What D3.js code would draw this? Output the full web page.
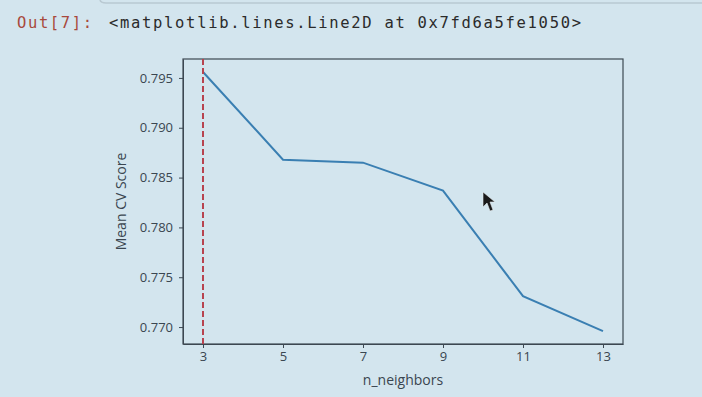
<!DOCTYPE html>
<meta charset="utf-8">
<style>
body { margin: 0; background: #d3e5ee; }
svg { display: block; background: #d3e5ee; }
.axis path, .axis line { stroke: #3d4852; }
.axis text { font: 13px "Open Sans", sans-serif; fill: #3a4650; }
</style>
<svg width="702" height="397"></svg>
<script src="https://d3js.org/d3.v7.min.js"></script>
<script>

// n_neighbors vs mean cross-validation score
var neighbors = [3, 5, 7, 9, 11, 13];
var scores = [0.7956, 0.7868, 0.7865, 0.7837, 0.7731, 0.7696];
var yTicks = [0.770, 0.775, 0.780, 0.785, 0.790, 0.795];
var bestK = 3;

var svg = d3.select("svg"),
    margin = {top: 59, right: 79, bottom: 53, left: 183},
    width = svg.attr("width") - margin.left - margin.right,
    height = svg.attr("height") - margin.top - margin.bottom;

// notebook cell frame + output prompt
svg.append("path")
    .attr("d", "M100,0 V-1 Q100,3 106,3 H702")
    .attr("fill", "none")
    .attr("stroke", "#b9c9d2")
    .attr("stroke-width", 1.5);

svg.append("text")
    .attr("x", 17).attr("y", 28)
    .attr("textLength", 75)
    .style("font", "15.5px 'DejaVu Sans Mono', monospace")
    .style("fill", "#a8493c")
    .text("Out[7]:");

svg.append("text")
    .attr("x", 109).attr("y", 28)
    .attr("textLength", 472)
    .style("font", "15.5px 'DejaVu Sans Mono', monospace")
    .style("fill", "#2b2b2b")
    .text("<matplotlib.lines.Line2D at 0x7fd6a5fe1050>");

// matplotlib-ish 5% margins
var xPad = (d3.max(neighbors) - d3.min(neighbors)) * 0.05,
    yPad = (d3.max(scores) - d3.min(scores)) * 0.05;

var x = d3.scaleLinear()
    .domain([d3.min(neighbors) - xPad, d3.max(neighbors) + xPad])
    .range([0, width]);

var y = d3.scaleLinear()
    .domain([d3.min(scores) - yPad, d3.max(scores) + yPad])
    .range([height, 0]);

var g = svg.append("g")
    .attr("transform", "translate(" + margin.left + "," + margin.top + ")");

g.append("g")
    .attr("class", "axis")
    .attr("transform", "translate(0," + height + ")")
    .call(d3.axisBottom(x).tickValues(neighbors).tickSize(4).tickPadding(4).tickSizeOuter(0));

g.append("g")
    .attr("class", "axis")
    .call(d3.axisLeft(y).tickValues(yTicks).tickFormat(d3.format(".3f")).tickSize(4).tickPadding(6).tickSizeOuter(0));

// frame
g.append("rect")
    .attr("width", width)
    .attr("height", height)
    .attr("fill", "none")
    .attr("stroke", "#3d4852")
    .attr("stroke-width", 1.2);

g.append("path")
    .datum(neighbors.map(function(k, i) { return [k, scores[i]]; }))
    .attr("fill", "none")
    .attr("stroke", "#3a7fb2")
    .attr("stroke-width", 2)
    .attr("d", d3.line()
        .x(function(d) { return x(d[0]); })
        .y(function(d) { return y(d[1]); }));

g.append("line")
    .attr("x1", x(bestK)).attr("x2", x(bestK))
    .attr("y1", 0).attr("y2", height)
    .attr("stroke", "#b8434f")
    .attr("stroke-width", 2)
    .attr("stroke-dasharray", "6,3");

g.append("text")
    .attr("x", width / 2)
    .attr("y", height + 41)
    .attr("text-anchor", "middle")
    .style("font", "14px 'Open Sans', sans-serif")
    .style("fill", "#3a4650")
    .text("n_neighbors");

g.append("text")
    .attr("transform", "translate(-57," + (height / 2) + ") rotate(-90)")
    .attr("text-anchor", "middle")
    .style("font", "14px 'Open Sans', sans-serif")
    .style("fill", "#3a4650")
    .text("Mean CV Score");

// mouse pointer
svg.append("path")
    .attr("d", "M483,192 L483,207 L487,203 L490,211 L493,210 L490,202 L495,202 Z")
    .attr("fill", "#1a1a1a")
    .attr("stroke", "#e8eef2")
    .attr("stroke-width", 0.6);

</script>
